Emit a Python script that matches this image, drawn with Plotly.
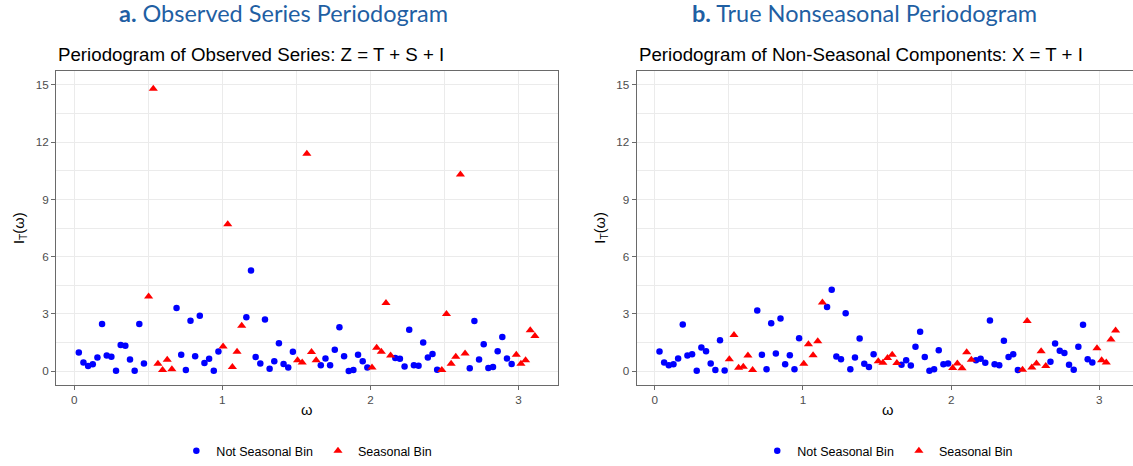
import plotly.graph_objects as go

# Fourier frequencies (omega_j = 2*pi*j/200), j = 1..99
omega = [0.0314, 0.0628, 0.0942, 0.1257, 0.1571, 0.1885, 0.2199, 0.2513, 0.2827, 0.3142,
         0.3456, 0.3770, 0.4084, 0.4398, 0.4712, 0.5027, 0.5341, 0.5655, 0.5969, 0.6283,
         0.6597, 0.6912, 0.7226, 0.7540, 0.7854, 0.8168, 0.8482, 0.8796, 0.9111, 0.9425,
         0.9739, 1.0053, 1.0367, 1.0681, 1.0996, 1.1310, 1.1624, 1.1938, 1.2252, 1.2566,
         1.2881, 1.3195, 1.3509, 1.3823, 1.4137, 1.4451, 1.4765, 1.5080, 1.5394, 1.5708,
         1.6022, 1.6336, 1.6650, 1.6965, 1.7279, 1.7593, 1.7907, 1.8221, 1.8535, 1.8850,
         1.9164, 1.9478, 1.9792, 2.0106, 2.0420, 2.0735, 2.1049, 2.1363, 2.1677, 2.1991,
         2.2305, 2.2619, 2.2934, 2.3248, 2.3562, 2.3876, 2.4190, 2.4504, 2.4819, 2.5133,
         2.5447, 2.5761, 2.6075, 2.6389, 2.6704, 2.7018, 2.7332, 2.7646, 2.7960, 2.8274,
         2.8588, 2.8903, 2.9217, 2.9531, 2.9845, 3.0159, 3.0473, 3.0788, 3.1102]

# indices (1-based j) of frequencies that fall in a seasonal bin
seasonal_j = [16, 17, 18, 19, 20, 21,
              32, 33, 34, 35, 36,
              48, 49, 50, 51, 52,
              64, 65, 66, 67, 68,
              79, 80, 81, 82, 83, 84,
              95, 96, 97, 98, 99]

# periodogram of observed series Z = T + S + I
observed = [0.97, 0.45, 0.26, 0.35, 0.71, 2.47, 0.82, 0.75, 0.02, 1.36,
            1.32, 0.61, 0.02, 2.47, 0.40, 3.91, 14.80, 0.38, 0.05, 0.59,
            0.10, 3.30, 0.85, 0.05, 2.64, 0.78, 2.90, 0.42, 0.64, 0.02,
            1.03, 1.29, 7.70, 0.21, 1.01, 2.37, 2.82, 5.27, 0.73, 0.40,
            2.70, 0.12, 0.52, 1.46, 0.37, 0.19, 1.01, 0.56, 0.45, 11.39,
            1.00, 0.56, 0.30, 0.66, 0.30, 1.11, 2.30, 0.78, 0.00, 0.05,
            0.85, 0.52, 0.19, 0.19, 1.22, 1.01, 3.57, 0.82, 0.68, 0.64,
            0.24, 2.17, 0.31, 0.28, 1.50, 0.71, 0.90, 0.07, 0.05, 2.99,
            0.38, 0.75, 10.31, 0.92, 0.14, 2.63, 0.61, 1.41, 0.16, 0.21,
            1.04, 1.79, 0.66, 0.37, 0.85, 0.38, 0.56, 2.14, 1.84]

# periodogram of non-seasonal components X = T + I
nonseasonal = [1.02, 0.45, 0.31, 0.36, 0.66, 2.44, 0.81, 0.88, 0.02, 1.23,
               1.04, 0.40, 0.05, 1.61, 0.03, 0.62, 1.89, 0.17, 0.23, 0.81,
               0.05, 3.17, 0.85, 0.09, 2.50, 0.92, 2.76, 0.35, 0.83, 0.09,
               1.72, 0.38, 1.40, 0.83, 1.56, 3.59, 3.36, 4.26, 0.76, 0.62,
               3.03, 0.10, 0.71, 1.70, 0.38, 0.21, 0.88, 0.52, 0.43, 0.68,
               0.85, 0.42, 0.33, 0.57, 0.29, 1.28, 2.06, 0.73, 0.02, 0.10,
               1.09, 0.35, 0.40, 0.16, 0.40, 0.14, 0.99, 0.59, 0.57, 0.64,
               0.43, 2.65, 0.35, 0.31, 1.59, 0.73, 0.88, 0.05, 0.07, 2.62,
               0.19, 0.40, 1.04, 0.26, 0.49, 1.44, 1.06, 0.94, 0.33, 0.07,
               1.28, 2.43, 0.62, 0.45, 1.20, 0.57, 0.45, 1.66, 2.13]

y_ticks = [0, 3, 6, 9, 12, 15]
x_ticks = [0, 1, 2, 3]

W, H = 1133, 466
is_seas = [(i + 1) in seasonal_j for i in range(len(omega))]

fig = go.Figure()

def add_panel(vals, xa, ya, leg):
    xs_n = [o for o, s in zip(omega, is_seas) if not s]
    ys_n = [v for v, s in zip(vals, is_seas) if not s]
    xs_s = [o for o, s in zip(omega, is_seas) if s]
    ys_s = [v for v, s in zip(vals, is_seas) if s]
    fig.add_trace(go.Scatter(x=xs_n, y=ys_n, mode="markers", name="Not Seasonal Bin",
                             marker=dict(color="#0000FF", size=6.5, symbol="circle"),
                             xaxis=xa, yaxis=ya, legend=leg, cliponaxis=False))
    fig.add_trace(go.Scatter(x=xs_s, y=ys_s, mode="markers", name="Seasonal Bin",
                             marker=dict(color="#FF0000", size=8, symbol="triangle-up"),
                             xaxis=xa, yaxis=ya, legend=leg, cliponaxis=False))

add_panel(observed, "x", "y", "legend")
add_panel(nonseasonal, "x2", "y2", "legend2")

px_unit = (557.7 - 56) / (3.2641 + 0.1225)
x_lo = -0.1225
x_hi_left = 3.2641
x_hi_right = x_lo + (W - 636.7) / px_unit

ydom = [1 - 387 / H, 1 - 71 / H]
tickfont = dict(family="Liberation Sans, Arial", size=11.7, color="#4D4D4D")
common_axis = dict(showline=True, linecolor="#6A6A6A", linewidth=1,
                   ticks="outside", ticklen=4, tickwidth=1, tickcolor="#6A6A6A",
                   showgrid=True, gridcolor="#EBEBEB", gridwidth=1.1,
                   zeroline=False, tickfont=tickfont)

fig.update_layout(
    width=W, height=H, autosize=False,
    margin=dict(l=0, r=0, t=0, b=0),
    paper_bgcolor="white", plot_bgcolor="white",
    xaxis=dict(domain=[56 / W, 557.7 / W], range=[x_lo, x_hi_left], tickvals=x_ticks,
               mirror=True, anchor="y",
               minor=dict(dtick=0.5, tick0=0, showgrid=True, gridcolor="#EBEBEB", gridwidth=0.55),
               **common_axis),
    yaxis=dict(domain=ydom, range=[-0.75, 15.75], tickvals=y_ticks, mirror=True, anchor="x",
               minor=dict(dtick=1.5, tick0=0, showgrid=True, gridcolor="#EBEBEB", gridwidth=0.55),
               **common_axis),
    xaxis2=dict(domain=[636.7 / W, 1.0], range=[x_lo, x_hi_right], tickvals=x_ticks,
                mirror=True, anchor="y2",
                minor=dict(dtick=0.5, tick0=0, showgrid=True, gridcolor="#EBEBEB", gridwidth=0.55),
                **common_axis),
    yaxis2=dict(domain=ydom, range=[-0.75, 15.75], tickvals=y_ticks, mirror=False, anchor="x2",
                minor=dict(dtick=1.5, tick0=0, showgrid=True, gridcolor="#EBEBEB", gridwidth=0.55),
                **common_axis),
    legend=dict(orientation="h", x=(56 + 557.7) / 2 / W, xanchor="center",
                y=1 - 453 / H, yanchor="middle", bgcolor="rgba(0,0,0,0)",
                font=dict(family="Liberation Sans, Arial", size=12.5, color="#000000")),
    legend2=dict(orientation="h", x=(636.7 + 1138.8) / 2 / W, xanchor="center",
                 y=1 - 453 / H, yanchor="middle", bgcolor="rgba(0,0,0,0)",
                 font=dict(family="Liberation Sans, Arial", size=12.5, color="#000000")),
    showlegend=True,
)

title_color = "#1F5FA3"
title_font = dict(family="Lato, Open Sans", size=23.5, color=title_color)
sub_font = dict(family="Liberation Sans, Arial", size=18.7, color="#000000")
lab_font = dict(family="Liberation Sans, Arial", size=14.7, color="#000000")

ann = [
    dict(text="<b>a.</b> Observed Series Periodogram", x=283 / W, y=1 - 13 / H,
         xanchor="center", yanchor="middle", font=title_font),
    dict(text="<b>b.</b> True Nonseasonal Periodogram", x=864 / W, y=1 - 13 / H,
         xanchor="center", yanchor="middle", font=title_font),
    dict(text="Periodogram of Observed Series: Z = T + S + I", x=56 / W, y=1 - 55 / H,
         xanchor="left", yanchor="middle", font=sub_font),
    dict(text="Periodogram of Non-Seasonal Components: X = T + I", x=636.7 / W, y=1 - 55 / H,
         xanchor="left", yanchor="middle", font=sub_font),
    dict(text="ω", x=(56 + 557.7) / 2 / W, y=1 - 412 / H, xanchor="center", yanchor="middle",
         font=lab_font),
    dict(text="ω", x=(636.7 + 1138.8) / 2 / W, y=1 - 412 / H, xanchor="center", yanchor="middle",
         font=lab_font),
    dict(text="I<sub>T</sub>(ω)", x=20 / W, y=1 - 229 / H, xanchor="center", yanchor="middle",
         textangle=-90, font=lab_font),
    dict(text="I<sub>T</sub>(ω)", x=600.7 / W, y=1 - 229 / H, xanchor="center", yanchor="middle",
         textangle=-90, font=lab_font),
]
for a in ann:
    a.update(xref="paper", yref="paper", showarrow=False)
fig.update_layout(annotations=ann)

fig.write_html("out.html")
